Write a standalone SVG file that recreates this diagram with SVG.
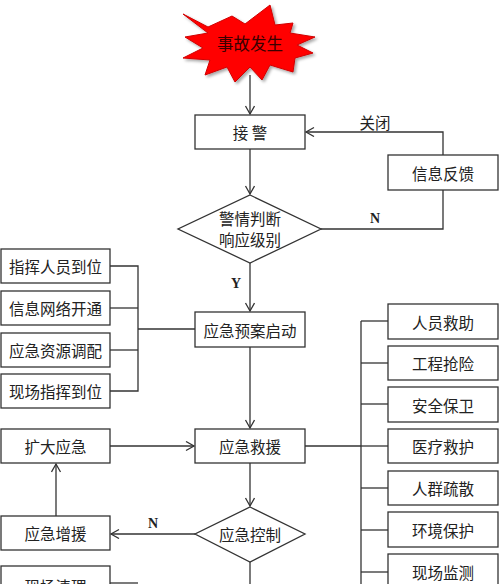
<svg xmlns="http://www.w3.org/2000/svg" width="500" height="584" viewBox="0 0 500 584">
<style>
.box{fill:#fff;stroke:#333;stroke-width:1.3}
.t{font-family:"Noto Sans CJK SC","Noto Sans",sans-serif;font-size:15.5px;fill:#222;text-anchor:middle;dominant-baseline:central}
.lbl{font-family:"Liberation Serif",serif;font-size:14px;font-weight:bold;fill:#222;text-anchor:middle;dominant-baseline:central}
.ln{fill:none;stroke:#333;stroke-width:1.3}
</style>
<defs>
<marker id="arr" markerUnits="userSpaceOnUse" markerWidth="12" markerHeight="12" refX="9" refY="5" orient="auto">
<path d="M1,0.5 L9,5 L1,9.5" fill="none" stroke="#333" stroke-width="1.3"/>
</marker>
<filter id="sh" x="-20%" y="-20%" width="140%" height="140%">
<feDropShadow dx="2" dy="2" stdDeviation="1.5" flood-color="#000" flood-opacity="0.35"/>
</filter>
</defs>
<rect width="500" height="584" fill="#fff"/>
<g id="connectors">
<line class="ln" x1="250" y1="75" x2="250" y2="114" marker-end="url(#arr)"/>
<line class="ln" x1="250" y1="149" x2="250" y2="194" marker-end="url(#arr)"/>
<polyline class="ln" points="321,229 443,229 443,190"/>
<polyline class="ln" points="443,155 443,132 306,132" marker-end="url(#arr)"/>
<line class="ln" x1="250" y1="263" x2="250" y2="311" marker-end="url(#arr)"/>
<polyline class="ln" points="110,266 138,266 138,391 110,391"/>
<line class="ln" x1="110" y1="308" x2="138" y2="308"/>
<line class="ln" x1="110" y1="350" x2="138" y2="350"/>
<line class="ln" x1="138" y1="329" x2="195" y2="329"/>
<line class="ln" x1="250" y1="347" x2="250" y2="428" marker-end="url(#arr)"/>
<line class="ln" x1="110" y1="446" x2="194" y2="446" marker-end="url(#arr)"/>
<line class="ln" x1="305" y1="446" x2="361" y2="446"/>
<line class="ln" x1="361" y1="321" x2="361" y2="584"/>
<line class="ln" x1="361" y1="321" x2="388" y2="321"/>
<line class="ln" x1="361" y1="363" x2="388" y2="363"/>
<line class="ln" x1="361" y1="404" x2="388" y2="404"/>
<line class="ln" x1="361" y1="446" x2="388" y2="446"/>
<line class="ln" x1="361" y1="488" x2="388" y2="488"/>
<line class="ln" x1="361" y1="530" x2="388" y2="530"/>
<line class="ln" x1="361" y1="572" x2="388" y2="572"/>
<line class="ln" x1="250" y1="463" x2="250" y2="506" marker-end="url(#arr)"/>
<line class="ln" x1="195" y1="534" x2="111" y2="534" marker-end="url(#arr)"/>
<line class="ln" x1="56" y1="516" x2="56" y2="464" marker-end="url(#arr)"/>
<line class="ln" x1="250" y1="562" x2="250" y2="584"/>
<line class="ln" x1="110" y1="583" x2="138" y2="583"/>
<text class="lbl" x="375" y="218">N</text>
<text class="t" x="375" y="122">关闭</text>
<text class="lbl" x="236" y="283">Y</text>
<text class="lbl" x="153" y="523">N</text>
</g>
<g id="start">
<polygon filter="url(#sh)" fill="#ff0000" stroke="#d00000" stroke-width="1" points="183,14 208,27 232,16 245,24 270,5 275,25 293,23 290,33 315,37 297,45 313,53 295,58 293,72 270,65 262,80 250,67 235,82 227,67 205,75 210,60 183,58 203,48 185,37 208,33"/>
<text class="t" x="250" y="43" style="font-size:16.5px;fill:#3a0000">事故发生</text>
</g>
<g id="jiejing"><rect class="box" x="195" y="115" width="110" height="34"/><text class="t" x="250" y="132">接 警</text></g>
<g id="xinxifankui"><rect class="box" x="388" y="155" width="110" height="35"/><text class="t" x="443" y="172.5">信息反馈</text></g>
<g id="panduan"><polygon class="box" points="250,195 321,229 250,263 178,229"/><text class="t" x="250" y="218">警情判断</text><text class="t" x="250" y="239">响应级别</text></g>
<g id="yuan"><rect class="box" x="195" y="312" width="110" height="35"/><text class="t" x="250" y="329.5">应急预案启动</text></g>
<g id="l1"><rect class="box" x="1" y="249" width="109" height="34"/><text class="t" x="55.5" y="266">指挥人员到位</text></g>
<g id="l2"><rect class="box" x="1" y="291" width="109" height="34"/><text class="t" x="55.5" y="308">信息网络开通</text></g>
<g id="l3"><rect class="box" x="1" y="333" width="109" height="34"/><text class="t" x="55.5" y="350">应急资源调配</text></g>
<g id="l4"><rect class="box" x="1" y="374" width="109" height="34"/><text class="t" x="55.5" y="391">现场指挥到位</text></g>
<g id="jiuyuan"><rect class="box" x="195" y="429" width="110" height="34"/><text class="t" x="250" y="446">应急救援</text></g>
<g id="kuoda"><rect class="box" x="1" y="429" width="109" height="34"/><text class="t" x="55.5" y="446">扩大应急</text></g>
<g id="zengyuan"><rect class="box" x="1" y="516" width="109" height="34"/><text class="t" x="55.5" y="533">应急增援</text></g>
<g id="qingli"><rect class="box" x="1" y="566" width="109" height="34"/><text class="t" x="55.5" y="586">现场清理</text></g>
<g id="kongzhi"><polygon class="box" points="250,507 305,534 250,562 195,534"/><text class="t" x="250" y="534">应急控制</text></g>
<g id="r1"><rect class="box" x="388" y="304" width="110" height="35"/><text class="t" x="443" y="321.5">人员救助</text></g>
<g id="r2"><rect class="box" x="388" y="346" width="110" height="34"/><text class="t" x="443" y="363">工程抢险</text></g>
<g id="r3"><rect class="box" x="388" y="387" width="110" height="35"/><text class="t" x="443" y="404.5">安全保卫</text></g>
<g id="r4"><rect class="box" x="388" y="429" width="110" height="34"/><text class="t" x="443" y="446">医疗救护</text></g>
<g id="r5"><rect class="box" x="388" y="471" width="110" height="34"/><text class="t" x="443" y="488">人群疏散</text></g>
<g id="r6"><rect class="box" x="388" y="512" width="110" height="35"/><text class="t" x="443" y="529.5">环境保护</text></g>
<g id="r7"><rect class="box" x="388" y="554" width="110" height="35"/><text class="t" x="443" y="571.5">现场监测</text></g>
</svg>
